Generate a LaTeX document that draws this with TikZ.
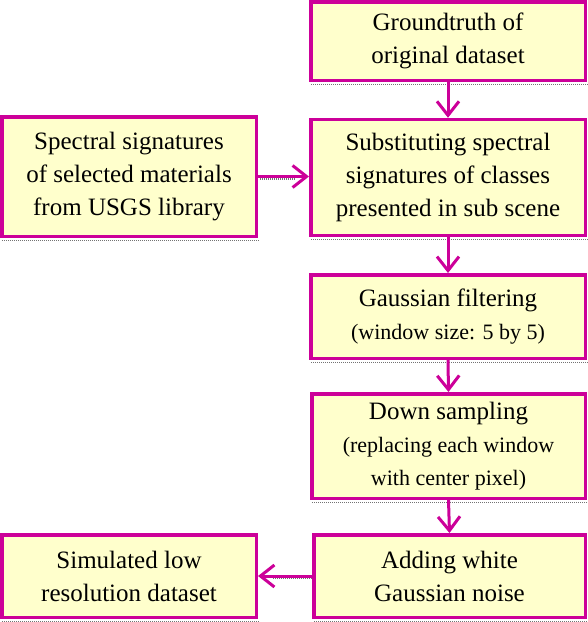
\documentclass[tikz,border=0pt]{standalone}
\usepackage{fontspec}
\setmainfont{Liberation Serif}
\usetikzlibrary{arrows.meta}
\definecolor{edge}{RGB}{204,0,153}
\definecolor{boxfill}{RGB}{255,255,204}
\tikzset{
  box/.style={draw=edge, fill=boxfill, line width=3.5pt, align=center, inner sep=0pt,
    font=\fontsize{25}{33}\selectfont},
  flow/.style={draw=edge, line width=3pt, -{Straight Barb[length=14pt, width=22pt, line width=3pt]}},
  shade/.style={draw=black!55, line width=1.3pt, dash pattern=on 1pt off 1pt},
}
\newcommand{\smalltxt}{\fontsize{22}{30}\selectfont}
\begin{document}
\begin{tikzpicture}[x=1pt,y=-1pt]
\useasboundingbox (0,0) rectangle (588,622);
\node[box, minimum width=274.5pt, minimum height=78.5pt] (g) at (448,41) {Groundtruth of\\original dataset};
\node[box, minimum width=274.5pt, minimum height=116pt] (s) at (448,177.5) {Substituting spectral\\signatures of classes\\presented in sub scene};
\node[box, minimum width=254.5pt, minimum height=119.5pt] (l) at (129,176.5) {Spectral signatures\\of selected materials\\from USGS library};
\node[box, minimum width=274.5pt, minimum height=83.5pt] (f) at (448,316.5) {Gaussian filtering\\{\smalltxt(window size: 5 by 5)}};
\node[box, minimum width=273.5pt, minimum height=104.5pt] (d) at (448.5,446) {Down sampling\\{\smalltxt(replacing each window}\\{\smalltxt with center pixel)}};
\node[box, minimum width=271.5pt, minimum height=82.5pt] (a) at (449.5,576) {Adding white\\Gaussian noise};
\node[box, minimum width=254.5pt, minimum height=82.5pt] (o) at (129,576) {Simulated low\\resolution dataset};
% shadows
\foreach \n in {g,s,l,f,d,a,o}{
  \draw[shade] ([xshift=2pt,yshift=-2.4pt]\n.south west) -- ([xshift=1pt,yshift=-2.4pt]\n.south east);
}
\draw[shade] ([xshift=2pt,yshift=-2.6pt]l.east) -- ([xshift=-14pt,yshift=-2.6pt]s.west |- l.east);
\draw[shade] ([yshift=-2.6pt]a.west) -- ([xshift=14pt,yshift=-2.6pt]o.east);
\draw[flow] (g.south) -- (s.north);
\draw[flow] (l.east) -- (s.west |- l.east);
\draw[flow] (s.south) -- (f.north);
\draw[flow] (f.south) -- (d.north);
\draw[flow] (d.south) -- (a.north);
\draw[flow] (a.west) -- (o.east);
\end{tikzpicture}
\end{document}
